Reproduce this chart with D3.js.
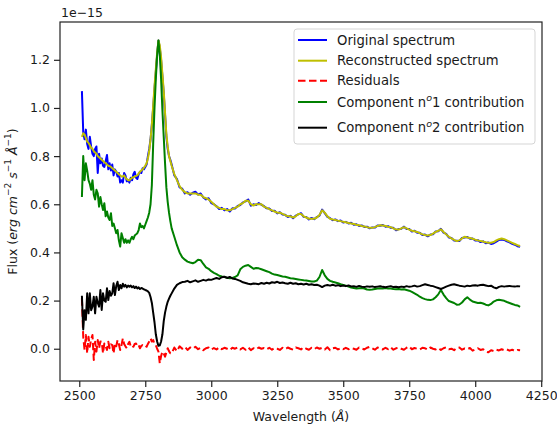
<!DOCTYPE html>
<html>
<head>
<meta charset="utf-8">
<script src="https://cdn.jsdelivr.net/npm/d3@7"></script>
<style>
  body { margin: 0; background: #fff; }
  text { font-family: "DejaVu Sans", sans-serif; fill: #1a1a1a; }
</style>
</head>
<body>
<div id="chart"></div>
<script>
// wavelength grid (Angstrom): 5 A steps over the noisy blue end, 10 A after
// flux values in units of 1e-15
const wavelengths = d3.range(2510, 2850, 5).concat(d3.range(2850, 4171, 10))

const originalSpectrum = [
  // 2510 - 2845 (5 A)
  1.07, 0.90, 0.87, 0.91, 0.85, 0.83, 0.88, 0.84, 0.81, 0.80,
  0.83, 0.84, 0.73, 0.81, 0.77, 0.79, 0.76, 0.755, 0.78, 0.805,
  0.745, 0.77, 0.74, 0.765, 0.72, 0.745, 0.735, 0.715, 0.73, 0.69,
  0.70, 0.69, 0.73, 0.72, 0.695, 0.70, 0.69, 0.71, 0.70, 0.725,
  0.735, 0.71, 0.705, 0.725, 0.735, 0.73, 0.75, 0.745, 0.755, 0.765,
  0.80, 0.83, 0.87, 0.93, 1.00, 1.08, 1.15, 1.22, 1.28, 1.25,
  1.20, 1.13, 1.06, 0.97, 0.88, 0.83, 0.80, 0.785,
  // 2850 - 4170 (10 A)
  0.765, 0.72, 0.705, 0.67, 0.665, 0.645,
  0.65, 0.64, 0.648, 0.652, 0.64, 0.645, 0.628, 0.62, 0.625, 0.605,
  0.60, 0.592, 0.58, 0.585, 0.575, 0.58, 0.57, 0.583, 0.582, 0.593,
  0.597, 0.608, 0.612, 0.62, 0.594, 0.60, 0.597, 0.605, 0.598, 0.592,
  0.583, 0.582, 0.572, 0.573, 0.562, 0.567, 0.557, 0.556, 0.547, 0.552,
  0.542, 0.553, 0.558, 0.563, 0.548, 0.547, 0.537, 0.543, 0.538, 0.547,
  0.553, 0.578, 0.563, 0.548, 0.542, 0.534, 0.537, 0.53, 0.533, 0.524,
  0.527, 0.52, 0.523, 0.515, 0.517, 0.51, 0.512, 0.506, 0.507, 0.50,
  0.504, 0.503, 0.512, 0.511, 0.514, 0.507, 0.509, 0.502, 0.502, 0.492,
  0.497, 0.498, 0.507, 0.497, 0.497, 0.487, 0.49, 0.482, 0.482, 0.472,
  0.474, 0.467, 0.474, 0.475, 0.487, 0.488, 0.498, 0.482, 0.477, 0.462,
  0.46, 0.449, 0.448, 0.447, 0.46, 0.462, 0.464, 0.457, 0.458, 0.45,
  0.451, 0.443, 0.446, 0.438, 0.441, 0.435, 0.438, 0.445, 0.452, 0.454,
  0.452, 0.446, 0.442, 0.436, 0.432, 0.426, 0.423
]

const reconstructed = [
  0.88, 0.895, 0.89, 0.875, 0.86, 0.855, 0.845, 0.835, 0.83, 0.82,
  0.815, 0.81, 0.80, 0.795, 0.79, 0.785, 0.78, 0.775, 0.77, 0.765,
  0.76, 0.758, 0.755, 0.75, 0.745, 0.74, 0.735, 0.73, 0.725, 0.72,
  0.715, 0.715, 0.72, 0.71, 0.705, 0.70, 0.70, 0.705, 0.71, 0.712,
  0.715, 0.718, 0.72, 0.728, 0.735, 0.74, 0.745, 0.752, 0.76, 0.77,
  0.79, 0.82, 0.87, 0.93, 1.01, 1.09, 1.16, 1.23, 1.28, 1.26,
  1.21, 1.14, 1.07, 0.98, 0.89, 0.84, 0.80, 0.78,
  0.76, 0.725, 0.70, 0.675, 0.66, 0.65,
  0.645, 0.645, 0.645, 0.645, 0.64, 0.64, 0.63, 0.625, 0.62, 0.61,
  0.60, 0.59, 0.585, 0.58, 0.58, 0.575, 0.575, 0.58, 0.585, 0.59,
  0.60, 0.605, 0.615, 0.615, 0.60, 0.595, 0.60, 0.60, 0.60, 0.59,
  0.585, 0.58, 0.575, 0.57, 0.565, 0.565, 0.56, 0.555, 0.55, 0.55,
  0.545, 0.55, 0.56, 0.56, 0.55, 0.545, 0.54, 0.54, 0.54, 0.545,
  0.555, 0.575, 0.565, 0.55, 0.54, 0.537, 0.535, 0.532, 0.53, 0.527,
  0.525, 0.522, 0.52, 0.518, 0.515, 0.513, 0.51, 0.508, 0.505, 0.502,
  0.502, 0.505, 0.51, 0.513, 0.512, 0.51, 0.507, 0.505, 0.50, 0.495,
  0.495, 0.50, 0.505, 0.50, 0.495, 0.49, 0.488, 0.485, 0.48, 0.475,
  0.472, 0.47, 0.472, 0.478, 0.485, 0.49, 0.496, 0.485, 0.475, 0.465,
  0.458, 0.452, 0.447, 0.45, 0.458, 0.465, 0.462, 0.46, 0.457, 0.453,
  0.45, 0.447, 0.445, 0.442, 0.44, 0.44, 0.443, 0.45, 0.455, 0.458,
  0.455, 0.45, 0.445, 0.44, 0.435, 0.43, 0.427
]

const residuals = [
  0.21, 0.05, -0.005, 0.057, -0.019, 0.05, 0.008, 0.04, 0.057, -0.047,
  0.029, -0.012, 0.036, 0.002, 0.03, 0.029, -0.019, 0.022, 0.01, -0.005,
  0.029, 0.002, 0.018, 0.015, -0.019, 0.022, 0.01, 0.036, 0.02, -0.005,
  0.015, 0.043, 0.02, 0.01, 0.002, 0.02, 0.029, 0.01, 0.015, 0.008,
  0.02, 0.022, 0.01, 0.015, 0.002, 0.012, 0.015, 0.01, 0.012, 0.008,
  0.02, 0.03, 0.043, 0.03, 0.036, 0.02, 0.015, 0.0, -0.012, -0.061,
  -0.03, -0.012, -0.02, -0.033, -0.015, 0.002, -0.01, -0.019,
  -0.02, 0.005, -0.01, 0.01, 0.0, 0.008,
  -0.005, 0.005, 0.0, 0.008, -0.002, 0.004, -0.006, 0.002, 0.005, -0.004,
  0.003, -0.003, 0.006, -0.002, 0.004, 0.0, -0.005, 0.004, 0.0, 0.006,
  -0.003, 0.004, -0.004, 0.006, -0.006, 0.002, -0.003, 0.005, 0.0, 0.003,
  -0.002, 0.004, -0.004, 0.003, 0.0, -0.005, 0.004, -0.002, 0.005, 0.0,
  -0.004, 0.005, 0.002, -0.003, 0.006, 0.0, -0.004, 0.004, -0.002, 0.005,
  0.0, 0.004, -0.003, 0.006, -0.006, 0.002, 0.004, -0.003, 0.003, -0.002,
  0.004, -0.002, 0.003, 0.0, -0.004, 0.005, 0.001, -0.003, 0.004, 0.008,
  0.002, -0.004, 0.005, 0.0, -0.003, 0.004, -0.002, 0.006, -0.004, 0.002,
  0.005, 0.0, -0.004, 0.004, 0.009, -0.002, 0.003, 0.0, -0.003, 0.004,
  0.002, -0.004, 0.005, 0.0, -0.003, 0.003, -0.005, 0.002, 0.006, -0.002,
  0.0, -0.006, 0.003, 0.005, -0.004, 0.001, -0.002, 0.003, -0.008, -0.003,
  0.002, -0.005, -0.002, -0.012, -0.015, -0.006, -0.01, -0.004, -0.007, -0.002,
  -0.006, -0.003, -0.008, -0.004, -0.009, -0.005, -0.006
]

const component1 = [
  0.63, 0.80, 0.70, 0.77, 0.74, 0.70, 0.685, 0.66, 0.70, 0.64,
  0.62, 0.66, 0.645, 0.59, 0.63, 0.60, 0.576, 0.604, 0.55, 0.57,
  0.545, 0.535, 0.563, 0.51, 0.52, 0.50, 0.48, 0.493, 0.45, 0.424,
  0.48, 0.46, 0.44, 0.455, 0.44, 0.45, 0.44, 0.455, 0.465, 0.455,
  0.47, 0.475, 0.48, 0.493, 0.52, 0.505, 0.51, 0.50, 0.515, 0.53,
  0.545, 0.565, 0.60, 0.68, 0.85, 1.00, 1.12, 1.22, 1.28, 1.22,
  1.12, 0.99, 0.88, 0.77, 0.67, 0.61, 0.565, 0.53,
  0.50, 0.465, 0.43, 0.40, 0.38, 0.37,
  0.362, 0.358, 0.355, 0.36, 0.37, 0.368, 0.352, 0.338, 0.332, 0.322,
  0.315, 0.31, 0.303, 0.30, 0.298, 0.295, 0.293, 0.294, 0.298, 0.305,
  0.33, 0.34, 0.345, 0.348, 0.34, 0.332, 0.335, 0.334, 0.33, 0.326,
  0.322, 0.318, 0.312, 0.308, 0.306, 0.303, 0.30, 0.299, 0.296, 0.293,
  0.292, 0.29, 0.288, 0.286, 0.284, 0.283, 0.281, 0.279, 0.279, 0.283,
  0.298, 0.327, 0.305, 0.29, 0.282, 0.278, 0.275, 0.272, 0.268, 0.265,
  0.262, 0.258, 0.254, 0.252, 0.25, 0.251, 0.252, 0.25, 0.246, 0.245,
  0.246, 0.248, 0.25, 0.251, 0.25, 0.252, 0.25, 0.25, 0.248, 0.247,
  0.248, 0.246, 0.247, 0.244, 0.241, 0.236, 0.23, 0.224, 0.216, 0.21,
  0.206, 0.203, 0.202, 0.205, 0.214, 0.226, 0.244, 0.225, 0.21, 0.198,
  0.194, 0.19, 0.183, 0.184, 0.192, 0.205, 0.214, 0.204, 0.196, 0.193,
  0.19, 0.191, 0.188, 0.183, 0.18, 0.186, 0.196, 0.201, 0.203, 0.201,
  0.199, 0.194, 0.19, 0.186, 0.182, 0.18, 0.174
]

const component2 = [
  0.22, 0.08, 0.16, 0.12, 0.23, 0.147, 0.23, 0.16, 0.175, 0.216,
  0.147, 0.216, 0.19, 0.175, 0.244, 0.161, 0.23, 0.20, 0.195, 0.251,
  0.202, 0.24, 0.22, 0.23, 0.272, 0.223, 0.26, 0.278, 0.244, 0.265,
  0.251, 0.27, 0.258, 0.265, 0.255, 0.262, 0.258, 0.262, 0.255, 0.26,
  0.252, 0.258, 0.25, 0.255, 0.248, 0.252, 0.25, 0.247, 0.244, 0.242,
  0.238, 0.232, 0.215, 0.19, 0.15, 0.11, 0.06, 0.03, 0.012, 0.014,
  0.03, 0.06, 0.115, 0.15, 0.175, 0.195, 0.208, 0.22,
  0.23, 0.25, 0.265, 0.272, 0.277, 0.278,
  0.282, 0.276, 0.28, 0.284, 0.278, 0.282, 0.286, 0.283, 0.288, 0.286,
  0.29, 0.294, 0.29, 0.297, 0.299, 0.294, 0.298, 0.292, 0.29, 0.286,
  0.282, 0.276, 0.273, 0.27, 0.268, 0.271, 0.27, 0.268, 0.273, 0.27,
  0.274, 0.271, 0.276, 0.274, 0.278, 0.273, 0.275, 0.272, 0.27, 0.274,
  0.27, 0.272, 0.268, 0.27, 0.267, 0.27, 0.266, 0.268, 0.265, 0.266,
  0.262, 0.256, 0.262, 0.265, 0.262, 0.266, 0.262, 0.264, 0.26, 0.263,
  0.26, 0.263, 0.259, 0.26, 0.257, 0.261, 0.258, 0.256, 0.259, 0.257,
  0.259, 0.256, 0.258, 0.26, 0.257, 0.255, 0.258, 0.26, 0.256, 0.257,
  0.255, 0.258, 0.256, 0.26, 0.257, 0.259, 0.262, 0.258, 0.26, 0.264,
  0.268, 0.265, 0.262, 0.26, 0.256, 0.252, 0.248, 0.253, 0.258, 0.262,
  0.266, 0.268, 0.265, 0.262, 0.26, 0.258, 0.262, 0.26, 0.263, 0.264,
  0.262, 0.265, 0.266, 0.263, 0.26, 0.262, 0.255, 0.251, 0.257, 0.26,
  0.258, 0.26, 0.261, 0.259, 0.258, 0.26, 0.259
]

const xTicks = [2500, 2750, 3000, 3250, 3500, 3750, 4000, 4250]
const yTicks = [0.0, 0.2, 0.4, 0.6, 0.8, 1.0, 1.2]

let cfg = {
  w: 557,
  h: 426,
  left: 60,
  right: 542,
  top: 22,
  bottom: 381,
  xDomain: [2427, 4253],
  yDomain: [-0.134, 1.357],
  lineWidth: 2,
  tickFont: 12.5,
  legendFont: 13.2
}

// series in plotting order (legend order too)
let series = [
  { label: [{ t: 'Original spectrum' }], values: originalSpectrum, color: '#0000ff' },
  { label: [{ t: 'Reconstructed spectrum' }], values: reconstructed, color: '#bfbf00' },
  { label: [{ t: 'Residuals' }], values: residuals, color: '#ff0000', dash: '7.5,3.5' },
  { label: [{ t: 'Component n' }, { t: 'o', sup: true, it: true }, { t: '1 contribution' }], values: component1, color: '#008000' },
  { label: [{ t: 'Component n' }, { t: 'o', sup: true, it: true }, { t: '2 contribution' }], values: component2, color: '#000000' }
]

let x = d3.scaleLinear().domain(cfg.xDomain).range([cfg.left, cfg.right])
let y = d3.scaleLinear().domain(cfg.yDomain).range([cfg.bottom, cfg.top])

let svg = d3.select('#chart')
  .append('svg')
  .attr('width', cfg.w)
  .attr('height', cfg.h)

svg.append('rect').attr('width', cfg.w).attr('height', cfg.h).attr('fill', '#fff')

svg.append('clipPath').attr('id', 'plotclip')
  .append('rect')
  .attr('x', cfg.left).attr('y', cfg.top)
  .attr('width', cfg.right - cfg.left).attr('height', cfg.bottom - cfg.top)

let line = d3.line()
  .x((d, i) => x(wavelengths[i]))
  .y(d => y(d))

let plot = svg.append('g').attr('clip-path', 'url(#plotclip)')
series.forEach(function (s) {
  plot.append('path')
    .datum(s.values)
    .attr('d', line)
    .attr('fill', 'none')
    .attr('stroke', s.color)
    .attr('stroke-width', cfg.lineWidth)
    .attr('stroke-linejoin', 'round')
    .attr('stroke-dasharray', s.dash || null)
})

// axes
let xAxis = svg.append('g')
  .attr('transform', 'translate(0,' + cfg.bottom + ')')
  .call(d3.axisBottom(x).tickValues(xTicks).tickFormat(d3.format('d')).tickSize(6).tickPadding(4).tickSizeOuter(0))
let yAxis = svg.append('g')
  .attr('transform', 'translate(' + cfg.left + ',0)')
  .call(d3.axisLeft(y).tickValues(yTicks).tickFormat(d3.format('.1f')).tickSize(6).tickPadding(4).tickSizeOuter(0))

;[xAxis, yAxis].forEach(function (a) {
  a.select('.domain').remove()
  a.selectAll('.tick line').attr('stroke', '#222').attr('stroke-width', 1.2)
  a.selectAll('.tick text')
    .attr('font-family', '"DejaVu Sans", sans-serif')
    .attr('font-size', cfg.tickFont)
    .attr('fill', '#1a1a1a')
})

// frame (spines)
svg.append('rect')
  .attr('x', cfg.left).attr('y', cfg.top)
  .attr('width', cfg.right - cfg.left).attr('height', cfg.bottom - cfg.top)
  .attr('fill', 'none')
  .attr('stroke', '#222')
  .attr('stroke-width', 1.2)

// offset text
svg.append('text')
  .attr('x', cfg.left + 1)
  .attr('y', 17)
  .attr('font-size', cfg.tickFont)
  .text('1e\u221215')

// axis labels
let xl = svg.append('text')
  .attr('x', (cfg.left + cfg.right) / 2)
  .attr('y', 421)
  .attr('text-anchor', 'middle')
  .attr('font-size', cfg.tickFont)
xl.append('tspan').text('Wavelength (')
xl.append('tspan').attr('font-style', 'italic').text('\u00c5')
xl.append('tspan').text(')')

function richText (sel, parts, size) {
  parts.forEach(function (p) {
    let ts = sel.append('tspan').text(p.t)
    if (p.it) ts.attr('font-style', 'italic')
    if (p.sup) {
      ts.attr('font-size', size * 0.72).attr('dy', -size * 0.42)
    } else if (p.after) {
      ts.attr('dy', size * 0.42)
    }
  })
}

let yl = svg.append('text')
  .attr('transform', 'translate(16.5,' + ((cfg.top + cfg.bottom) / 2) + ') rotate(-90)')
  .attr('text-anchor', 'middle')
  .attr('font-size', cfg.tickFont)
richText(yl, [
  { t: 'Flux (' },
  { t: 'erg cm', it: true },
  { t: '\u22122', sup: true },
  { t: ' s', it: true, after: true },
  { t: '\u22121', sup: true },
  { t: ' \u00c5', it: true, after: true },
  { t: '\u22121', sup: true },
  { t: ')', after: true }
], cfg.tickFont)

// legend
let legendRows = [0, 20.7, 40.7, 62, 87.7]
let lg = svg.append('g').attr('transform', 'translate(294,29)')
lg.append('rect')
  .attr('width', 241).attr('height', 115)
  .attr('rx', 3).attr('ry', 3)
  .attr('fill', '#fff').attr('fill-opacity', 0.8)
  .attr('stroke', '#d5d5d5').attr('stroke-width', 1)
series.forEach(function (s, i) {
  let cy = 11 + legendRows[i]
  lg.append('line')
    .attr('x1', 4).attr('x2', 33)
    .attr('y1', cy).attr('y2', cy)
    .attr('stroke', s.color)
    .attr('stroke-width', cfg.lineWidth)
    .attr('stroke-dasharray', s.dash || null)
  let t = lg.append('text')
    .attr('x', 43)
    .attr('y', cy + cfg.legendFont * 0.36)
    .attr('font-size', cfg.legendFont)
  let parts = s.label.map((p, k) => Object.assign({}, p, { after: k > 0 && s.label[k - 1].sup }))
  richText(t, parts, cfg.legendFont)
})
</script>
</body>
</html>
